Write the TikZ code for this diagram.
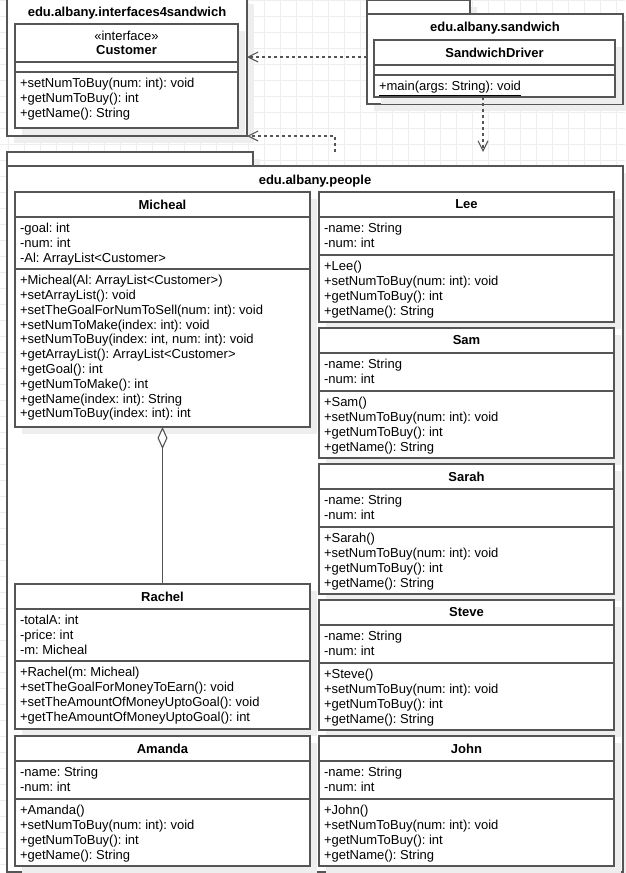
\documentclass[tikz,border=0pt]{standalone}
\usepackage{fontspec}
\setmainfont{Liberation Sans}
\usetikzlibrary{arrows.meta,shadows}
\frenchspacing

\definecolor{umlline}{RGB}{85,85,85}
\definecolor{umlgrid}{RGB}{238,238,238}
\definecolor{umlshadow}{RGB}{238,238,238}

\tikzset{
  umltext/.style={font=\fontsize{13}{14.8}\selectfont, inner sep=0pt, outer sep=0pt},
  umltitle/.style={font=\fontsize{13}{14}\selectfont\bfseries, inner sep=0pt, outer sep=0pt, align=center},
  pkgtitle/.style={umltitle, text height=9.4pt, text depth=0pt},
  boxshape/.style={draw=umlline, line width=1.2pt, fill=white, rectangle,
    inner sep=0pt, outer sep=0pt,
    drop shadow={shadow xshift=7pt, shadow yshift=-7pt, fill=umlshadow, opacity=1}},
  sepline/.style={draw=umlline, line width=1.2pt},
  dep/.style={draw=umlline, line width=1.3pt, dash pattern=on 3pt off 3pt,
    -{Straight Barb[length=10pt,width=10pt,line width=1.1pt]}},
  agg/.style={draw=umlline, line width=1.4pt,
    {Diamond[length=22pt,width=10pt,line width=1.1pt,fill=white]}-},
  gridline/.style={draw=umlgrid, line width=0.8pt},
}

% rectangle node: name, x1, x2, top, bottom
\newcommand\umlboxnode[5]{%
  \pgfmathsetmacro\umlbw{#3-#2}\pgfmathsetmacro\umlbh{#5-#4}%
  \node[boxshape, anchor=north west, minimum width=\umlbw pt, minimum height=\umlbh pt] (#1) at (#2,#4) {};}

% class: name (x1,x2,top,header bottom,attributes bottom,bottom) {title}{attributes}{operations}
\def\umlclass#1(#2,#3,#4,#5,#6,#7)#8#9{%
  \umlboxnode{#1}{#2}{#3}{#4}{#7}%
  \draw[sepline] (#2,#5) -- (#3,#5);
  \draw[sepline] (#2,#6) -- (#3,#6);
  \node[umltitle] (#1-name) at ({(#2+#3)/2},{(#4+#5)/2}) {#8};
  \node[umltext, anchor=north west] (#1-attrs) at ({#2+5},{#5+5.3})
    {\begin{tabular}{@{}l@{}}#9\end{tabular}};
  \def\umlcurx{#2}\def\umlcury{#6}\def\umlcurname{#1}\umlclassops}
\newcommand\umlclassops[1]{%
  \node[umltext, anchor=north west] (\umlcurname-ops) at ({\umlcurx+5},{\umlcury+5.3})
    {\begin{tabular}{@{}l@{}}#1\end{tabular}};}

\newcommand\personattrs{-name: String\\-num: int}
\newcommand\personops[1]{+#1()\\+setNumToBuy(num: int): void\\+getNumToBuy(): int\\+getName(): String}

\begin{document}
\begin{tikzpicture}[x=1pt,y=-1pt]
\useasboundingbox (0,0) rectangle (625,873);

% background grid
\foreach \gx in {8,24,...,616} \draw[gridline] (\gx,0) -- (\gx,873);
\foreach \gy in {0,16,...,864} \draw[gridline] (0,\gy) -- (625,\gy);

% package edu.albany.interfaces4sandwich
\umlboxnode{ipkg}{7}{247}{-3}{136}
\node[pkgtitle] (ipkg-title) at (127,12) {edu.albany.interfaces4sandwich};

% package edu.albany.sandwich
\umlboxnode{spkgtab}{367}{470}{0}{14}
\umlboxnode{spkg}{367}{623}{14}{104}
\node[pkgtitle] (spkg-title) at (495,27) {edu.albany.sandwich};

% package edu.albany.people
\umlboxnode{ppkgtab}{7}{253}{152}{166}
\umlboxnode{ppkg}{7}{623}{166}{872}
\node[pkgtitle] (ppkg-title) at (315,180) {edu.albany.people};

% interface Customer
\umlclass{cust}(15,238,24,62,72,128)
  {\normalfont\fontsize{13}{14}\selectfont «interface»\\Customer}{}
  {+setNumToBuy(num: int): void\\+getNumToBuy(): int\\+getName(): String}

% SandwichDriver
\umlclass{drv}(374,615,40,65,75,97){SandwichDriver}{}
  {\underline{+main(args: String): void}}

% people classes, left column
\umlclass{mich}(15,310,192,217,269,427){Micheal}
  {-goal: int\\-num: int\\-Al: ArrayList<Customer>}
  {+Micheal(Al: ArrayList<Customer>)\\+setArrayList(): void\\+setTheGoalForNumToSell(num: int): void\\
   +setNumToMake(index: int): void\\+setNumToBuy(index: int, num: int): void\\
   +getArrayList(): ArrayList<Customer>\\+getGoal(): int\\+getNumToMake(): int\\
   +getName(index: int): String\\+getNumToBuy(index: int): int}
\umlclass{rach}(15,310,584,609,661,729){Rachel}
  {-totalA: int\\-price: int\\-m: Micheal}
  {+Rachel(m: Micheal)\\+setTheGoalForMoneyToEarn(): void\\+setTheAmountOfMoneyUptoGoal(): void\\
   +getTheAmountOfMoneyUptoGoal(): int}
\umlclass{aman}(15,310,736,761,799,866){Amanda}{\personattrs}{\personops{Amanda}}

% people classes, right column
\umlclass{lee}(319,614,192,217,255,322){Lee}{\personattrs}{\personops{Lee}}
\umlclass{sam}(319,614,328,353,391,458){Sam}{\personattrs}{\personops{Sam}}
\umlclass{sarah}(319,614,464,489,527,594){Sarah}{\personattrs}{\personops{Sarah}}
\umlclass{steve}(319,614,600,625,663,730){Steve}{\personattrs}{\personops{Steve}}
\umlclass{john}(319,614,736,761,799,866){John}{\personattrs}{\personops{John}}

% dependencies
\coordinate (dsrc) at ([yshift=2pt]spkg.west);
\draw[dep] (dsrc) -- (dsrc -| ipkg.east);
\coordinate (ptop) at (335,152);
\draw[dep] (ptop) |- (ipkg.south east);
\coordinate (pin) at (483,152);
\draw[dep] (drv.south -| pin) -- (pin);

% aggregation Micheal <>-- Rachel
\draw[agg] (mich.south) -- (rach.north);
\end{tikzpicture}
\end{document}
